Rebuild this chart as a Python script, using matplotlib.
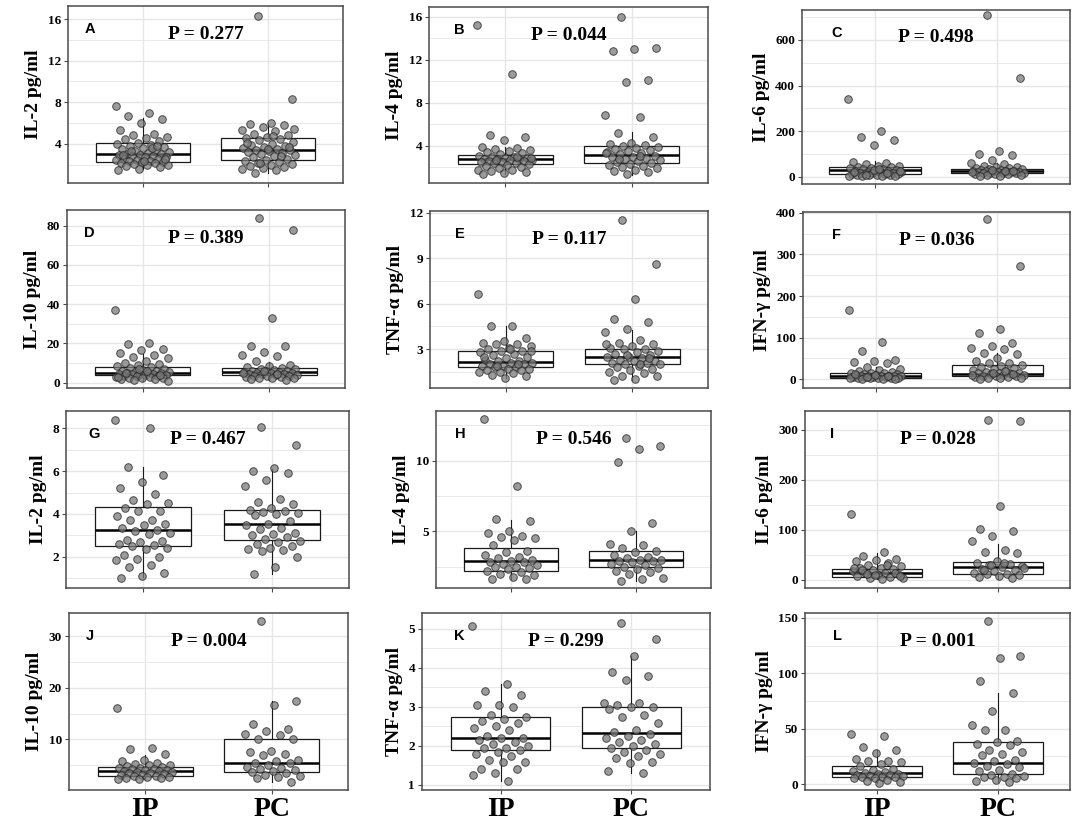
import matplotlib
matplotlib.use("Agg")
import matplotlib.pyplot as plt
import numpy as np

# ---- data (pg/ml) ----
groups = ["IP", "PC"]

ip_a = [7.6, 7.0, 6.7, 6.4, 6.0, 5.3, 5.0, 4.9, 4.7, 4.6, 4.5, 4.3, 4.1, 4.0, 3.9, 3.8, 3.7, 3.6, 3.5, 3.4,
        3.3, 3.2, 3.1, 3.0, 3.0, 2.9, 2.9, 2.8, 2.8, 2.7, 2.7, 2.6, 2.6, 2.5, 2.5, 2.4, 2.4, 2.3, 2.3, 2.2,
        2.2, 2.1, 2.0, 2.0, 1.9, 1.8, 1.6, 1.5, 3.6, 3.3, 2.6, 2.4, 2.9, 3.8]
pc_a = [16.3, 8.3, 6.0, 5.9, 5.8, 5.6, 5.3, 5.2, 5.0, 4.9, 4.7, 4.6, 4.5, 4.4, 4.2, 4.0, 3.9, 3.8, 3.7, 3.6,
        3.5, 3.4, 3.4, 3.3, 3.2, 3.1, 3.0, 2.9, 2.8, 2.7, 2.6, 2.5, 2.4, 2.3, 2.2, 2.1, 2.0, 1.9, 1.8, 1.7,
        1.6, 1.5, 1.2, 3.7, 3.5, 4.1, 2.8, 2.2, 5.4, 4.8]
ip_b = [15.2, 10.7, 5.0, 4.8, 4.5, 3.9, 3.8, 3.7, 3.6, 3.5, 3.4, 3.3, 3.2, 3.1, 3.0, 3.0, 2.9, 2.9, 2.8, 2.8,
        2.8, 2.7, 2.7, 2.6, 2.6, 2.5, 2.5, 2.4, 2.4, 2.3, 2.2, 2.1, 2.0, 1.9, 1.8, 1.8, 1.7, 1.6, 1.5, 1.4,
        3.0, 2.7, 2.9]
pc_b = [16.0, 13.1, 13.0, 12.8, 10.1, 9.9, 6.9, 6.7, 5.2, 4.8, 4.3, 4.2, 4.1, 4.0, 3.9, 3.8, 3.7, 3.6, 3.5,
        3.4, 3.3, 3.2, 3.1, 3.0, 3.0, 2.9, 2.8, 2.7, 2.6, 2.5, 2.4, 2.3, 2.2, 2.1, 2.0, 1.9, 1.8, 1.7, 1.6,
        1.4, 3.3, 3.1, 2.8]
ip_c = [340, 200, 175, 160, 140, 65, 60, 55, 50, 48, 45, 42, 40, 38, 35, 33, 30, 28, 26, 25, 23, 22, 20, 18,
        17, 15, 14, 13, 12, 11, 10, 9, 8, 7, 6, 5, 4, 3, 30, 20, 15, 10, 25, 35]
pc_c = [710, 435, 115, 100, 95, 75, 60, 55, 50, 45, 42, 40, 38, 36, 34, 32, 30, 28, 27, 26, 25, 24, 23, 22,
        21, 20, 19, 18, 17, 16, 15, 14, 13, 12, 10, 8, 6, 5, 25, 30, 20, 28]
ip_d = [37, 20, 19.5, 17, 16.5, 15, 14, 13, 12.5, 11, 10, 9.5, 9, 8.5, 8, 7.5, 7, 6.5, 6, 6, 5.5, 5.5, 5, 5,
        4.8, 4.6, 4.5, 4.3, 4.2, 4, 3.8, 3.6, 3.4, 3.2, 3, 2.8, 2.6, 2.4, 2.2, 2, 1.8, 1.5, 1, 6, 5, 4, 7, 3]
pc_d = [84, 78, 33, 18.7, 18.5, 15.5, 14, 13.5, 11, 9, 8.5, 8, 7.5, 7, 7, 6.5, 6, 6, 5.8, 5.5, 5.3, 5, 5,
        4.8, 4.6, 4.4, 4.2, 4, 3.8, 3.6, 3.4, 3.2, 3, 2.8, 2.6, 2.4, 2.2, 2, 1.5, 6, 5, 4.5]
ip_e = [6.6, 4.5, 4.5, 3.7, 3.5, 3.4, 3.3, 3.3, 3.2, 3.1, 3.0, 2.9, 2.9, 2.8, 2.7, 2.6, 2.5, 2.4, 2.3, 2.2,
        2.2, 2.1, 2.1, 2.0, 2.0, 1.9, 1.9, 1.8, 1.8, 1.7, 1.7, 1.6, 1.6, 1.5, 1.5, 1.4, 1.3, 1.2, 1.1, 2.5,
        2.0, 1.9, 2.9, 3.0]
pc_e = [11.5, 8.6, 6.3, 5.0, 4.8, 4.3, 4.1, 3.6, 3.4, 3.3, 3.2, 3.1, 3.0, 3.0, 2.9, 2.8, 2.7, 2.6, 2.5, 2.5,
        2.4, 2.3, 2.2, 2.2, 2.1, 2.1, 2.0, 2.0, 1.9, 1.8, 1.7, 1.6, 1.5, 1.4, 1.2, 1.2, 1.0, 0.95, 2.4, 2.6,
        3.3, 2.0]
ip_f = [167, 90, 68, 47, 45, 42, 40, 30, 25, 22, 20, 18, 16, 15, 14, 13, 12, 11, 10, 9, 9, 8, 8, 7, 7, 6, 6,
        5, 5, 4, 4, 3, 3, 2, 2, 1, 1, 0, 10, 12, 8, 6]
pc_f = [385, 272, 120, 112, 87, 80, 74, 72, 62, 60, 50, 45, 40, 38, 35, 32, 30, 28, 25, 22, 20, 18, 16, 15,
        14, 13, 12, 11, 10, 9, 8, 7, 6, 5, 4, 3, 2, 1, 12, 15, 10, 20]
ip_g = [8.4, 8.0, 6.2, 5.8, 5.5, 5.2, 4.95, 4.65, 4.5, 4.45, 4.3, 4.15, 4.15, 3.9, 3.7, 3.7, 3.55, 3.5, 3.35,
        3.25, 3.2, 3.1, 3.05, 2.8, 2.75, 2.7, 2.6, 2.55, 2.5, 2.4, 2.35, 2.1, 2.0, 1.9, 1.85, 1.6, 1.5, 1.25,
        1.1, 1.0]
pc_g = [8.05, 7.2, 6.15, 6.0, 5.9, 5.6, 5.3, 4.7, 4.55, 4.45, 4.3, 4.2, 4.15, 4.1, 4.05, 4.0, 3.95, 3.65,
        3.55, 3.5, 3.35, 3.3, 3.1, 3.05, 3.0, 2.9, 2.85, 2.75, 2.7, 2.6, 2.5, 2.4, 2.35, 2.3, 2.25, 2.0, 1.5,
        1.2]
ip_h = [12.9, 8.2, 5.9, 5.7, 5.0, 4.9, 4.7, 4.6, 4.5, 4.4, 4.0, 3.6, 3.5, 3.3, 3.2, 3.1, 3.0, 2.9, 2.8, 2.8,
        2.7, 2.6, 2.5, 2.5, 2.4, 2.3, 2.2, 2.1, 2.0, 1.9, 1.8, 1.6, 1.6]
pc_h = [11.6, 11.0, 10.8, 9.9, 5.6, 5.0, 4.1, 4.0, 3.8, 3.6, 3.5, 3.3, 3.2, 3.1, 3.0, 3.0, 2.9, 2.9, 2.8,
        2.7, 2.6, 2.5, 2.4, 2.3, 2.2, 2.1, 2.0, 1.7, 1.6, 1.5]
ip_i = [133, 57, 48, 42, 40, 38, 35, 30, 28, 25, 24, 22, 20, 18, 15, 14, 12, 10, 8, 6, 5, 4, 3, 20, 15, 10,
        25, 30, 12, 8]
pc_i = [320, 318, 148, 103, 98, 88, 78, 60, 56, 54, 38, 35, 33, 30, 28, 26, 22, 20, 18, 15, 13, 12, 10, 8,
        6, 4, 30, 25, 35, 20]
ip_j = [16, 8.3, 8.2, 7.2, 6.0, 5.8, 5.5, 5.3, 5.1, 5.0, 4.8, 4.6, 4.5, 4.4, 4.3, 4.2, 4.1, 4.0, 3.9, 3.8,
        3.7, 3.6, 3.5, 3.4, 3.3, 3.2, 3.1, 3.0, 2.9, 2.8, 2.7, 2.6, 2.5, 2.4, 2.3]
pc_j = [33, 17.4, 16.6, 13.0, 12.0, 11.6, 11.0, 10.8, 10.0, 10.0, 7.7, 7.5, 7.1, 7.0, 6.0, 5.8, 5.5, 5.4,
        5.0, 4.7, 4.5, 4.3, 4.0, 3.8, 3.6, 3.4, 3.2, 3.0, 2.8, 2.5, 1.8]
ip_k = [5.07, 3.6, 3.4, 3.3, 3.05, 3.05, 3.0, 2.8, 2.75, 2.7, 2.65, 2.6, 2.5, 2.45, 2.4, 2.25, 2.2, 2.2,
        2.15, 2.1, 2.05, 2.0, 1.95, 1.95, 1.9, 1.85, 1.8, 1.75, 1.65, 1.6, 1.6, 1.4, 1.4, 1.3, 1.25, 1.1]
pc_k = [5.15, 4.75, 4.3, 3.9, 3.8, 3.7, 3.1, 3.1, 3.05, 3.0, 3.0, 2.95, 2.8, 2.75, 2.6, 2.4, 2.35, 2.3,
        2.25, 2.2, 2.15, 2.1, 2.05, 2.0, 1.95, 1.9, 1.85, 1.8, 1.75, 1.7, 1.6, 1.55, 1.35, 1.3]
ip_l = [45, 43, 33, 31, 28, 23, 21, 21, 20, 18, 16, 14, 13, 12, 11, 10, 9, 9, 8, 8, 7, 7, 6, 6, 6, 5, 5, 4,
        3, 2, 1]
pc_l = [147, 116, 114, 93, 82, 66, 53, 49, 49, 39, 38, 36, 35, 31, 29, 27, 26, 22, 21, 19, 18, 16, 15, 13,
        12, 9, 8, 7, 6, 6, 5, 4, 3, 2]

# box stats: [whisker low, q1, median, q3, whisker high]
box_ip = {
    "A": [1.6, 2.3, 3.05, 4.1, 6.5], "B": [1.4, 2.33, 2.8, 3.16, 3.9], "C": [2, 12, 30, 44, 70],
    "D": [1.0, 4.0, 4.9, 8.0, 14.5], "E": [1.1, 1.79, 2.16, 2.89, 4.5], "F": [0, 4, 8, 14, 30],
    "G": [1.04, 2.5, 3.25, 4.34, 6.2], "H": [1.6, 2.2, 2.92, 3.8, 5.8], "I": [2, 6, 14, 23, 55],
    "J": [2.3, 2.97, 3.95, 4.7, 7.0], "K": [1.1, 1.9, 2.2, 2.73, 3.6], "L": [0.5, 6, 9.6, 16.5, 30.7],
}
box_pc = {
    "A": [1.2, 2.45, 3.45, 4.6, 6.0], "B": [1.3, 2.42, 3.16, 4.0, 5.3], "C": [2, 15, 24, 34, 60],
    "D": [1.5, 4.0, 5.3, 7.3, 10.5], "E": [0.95, 1.98, 2.49, 3.0, 4.25], "F": [1, 8, 12, 34, 63],
    "G": [1.2, 2.77, 3.55, 4.2, 6.1], "H": [1.5, 2.5, 3.0, 3.6, 5.05], "I": [2, 12, 27, 37, 72],
    "J": [1.8, 3.75, 5.5, 10.0, 17.5], "K": [1.3, 1.94, 2.33, 3.0, 4.3], "L": [2, 9, 19.3, 37.7, 82.6],
}
p_values = {"A": "0.277", "B": "0.044", "C": "0.498", "D": "0.389", "E": "0.117", "F": "0.036",
            "G": "0.467", "H": "0.546", "I": "0.028", "J": "0.004", "K": "0.299", "L": "0.001"}
ylabels = {"A": "IL-2 pg/ml", "B": "IL-4 pg/ml", "C": "IL-6 pg/ml", "D": "IL-10 pg/ml",
           "E": "TNF-α pg/ml", "F": "IFN-γ pg/ml", "G": "IL-2 pg/ml", "H": "IL-4 pg/ml",
           "I": "IL-6 pg/ml", "J": "IL-10 pg/ml", "K": "TNF-α pg/ml", "L": "IFN-γ pg/ml"}
points = {"A": (ip_a, pc_a), "B": (ip_b, pc_b), "C": (ip_c, pc_c), "D": (ip_d, pc_d),
          "E": (ip_e, pc_e), "F": (ip_f, pc_f), "G": (ip_g, pc_g), "H": (ip_h, pc_h),
          "I": (ip_i, pc_i), "J": (ip_j, pc_j), "K": (ip_k, pc_k), "L": (ip_l, pc_l)}

# axis settings: ylim, major ticks, minor gridlines
yaxes = {
    "A": ((0.25, 17.25), [4, 8, 12, 16], [2, 6, 10, 14]),
    "B": ((0.55, 16.9), [4, 8, 12, 16], [2, 6, 10, 14]),
    "C": ((-31, 731), [0, 200, 400, 600], [100, 300, 500, 700]),
    "D": ((-2.7, 88), [0, 20, 40, 60, 80], [10, 30, 50, 70]),
    "E": ((0.43, 12.1), [3, 6, 9, 12], [1.5, 4.5, 7.5, 10.5]),
    "F": ((-21, 402), [0, 100, 200, 300, 400], [50, 150, 250, 350]),
    "G": ((0.54, 8.81), [2, 4, 6, 8], [1, 3, 5, 7]),
    "H": ((0.99, 13.5), [5, 10], [2.5, 7.5, 12.5]),
    "I": ((-16, 338), [0, 100, 200, 300], [50, 150, 250]),
    "J": ((0.2, 34.5), [10, 20, 30], [5, 15, 25]),
    "K": ((0.87, 5.41), [1, 2, 3, 4, 5], [1.5, 2.5, 3.5, 4.5]),
    "L": ((-5.4, 154.5), [0, 50, 100, 150], [25, 75, 125]),
}

# panel rectangles in pixels: left, top, right, bottom ; letter x position (axes fraction)
W, H = 1084, 836
rects = {
    "A": (68, 6, 343, 183, 0.06), "B": (429, 7, 708, 183, 0.09), "C": (802, 10, 1070, 184, 0.11),
    "D": (67, 210, 345, 388, 0.06), "E": (430, 211, 708, 388, 0.09), "F": (803, 212, 1070, 388, 0.11),
    "G": (66, 411, 349, 588, 0.08), "H": (436, 411, 711, 588, 0.07), "I": (805, 411, 1070, 588, 0.095),
    "J": (69, 613, 348, 790, 0.06), "K": (422, 613, 710, 790, 0.11), "L": (805, 613, 1070, 790, 0.105),
}

serif = "Liberation Serif"
frame_col = "#4a4a4a"
grid_col = "#e6e6e6"

fig = plt.figure(figsize=(W / 100, H / 100), dpi=100)

for key in "ABCDEFGHIJKL":
    l, t, r, b, lx = rects[key]
    ax = fig.add_axes([l / W, 1 - b / H, (r - l) / W, (b - t) / H])
    ylim, major, minor = yaxes[key]

    # grid
    for v in minor:
        ax.axhline(v, color=grid_col, lw=0.6, zorder=0)
    for v in major:
        ax.axhline(v, color=grid_col, lw=1.0, zorder=0)
    for v in [1, 2]:
        ax.axvline(v, color=grid_col, lw=1.0, zorder=0)

    # boxes
    stats = []
    for s in (box_ip[key], box_pc[key]):
        stats.append(dict(whislo=s[0], q1=s[1], med=s[2], q3=s[3], whishi=s[4]))
    ax.bxp(stats, positions=[1, 2], widths=0.75, showfliers=False, showcaps=False,
           patch_artist=True, manage_ticks=False,
           boxprops=dict(facecolor="white", edgecolor="#1a1a1a", linewidth=0.9),
           medianprops=dict(color="black", linewidth=1.8),
           whiskerprops=dict(color="#1a1a1a", linewidth=0.8),
           zorder=2)

    # jittered points (deterministic spread)
    for gi, vals in enumerate(points[key]):
        n = len(vals)
        offs = (((np.arange(n) * 0.6180339887 + 0.31 * gi) % 1.0) - 0.5) * 0.44
        ax.scatter(gi + 1 + offs, vals, s=30, facecolor="#7a7a7a", edgecolor="#202020",
                   linewidths=0.7, alpha=0.75, zorder=3)

    ax.set_xlim(0.4, 2.6)
    ax.set_ylim(*ylim)
    ax.set_yticks(major)
    ax.set_yticklabels([f"{v:g}" for v in major], fontfamily=serif, fontweight="bold", fontsize=9.5)
    ax.set_xticks([1, 2])
    if key in "JKL":
        ax.set_xticklabels(groups, fontfamily=serif, fontweight="bold", fontsize=20)
    else:
        ax.set_xticklabels(["", ""])
    ax.tick_params(axis="both", length=3, width=0.8, color=frame_col, pad=2)
    for sp in ax.spines.values():
        sp.set_color(frame_col)
        sp.set_linewidth(1.1)

    ax.set_ylabel(ylabels[key], fontfamily=serif, fontweight="bold", fontsize=14, labelpad=4)
    ax.text(0.5, 0.84, "P = " + p_values[key], transform=ax.transAxes, ha="center", va="center",
            fontfamily=serif, fontweight="bold", fontsize=14, zorder=5)
    ax.text(lx, 0.87, key, transform=ax.transAxes, ha="left", va="center",
            fontfamily="Liberation Sans", fontweight="bold", fontsize=10.5, zorder=5)

fig.savefig("out.png", dpi=100)
